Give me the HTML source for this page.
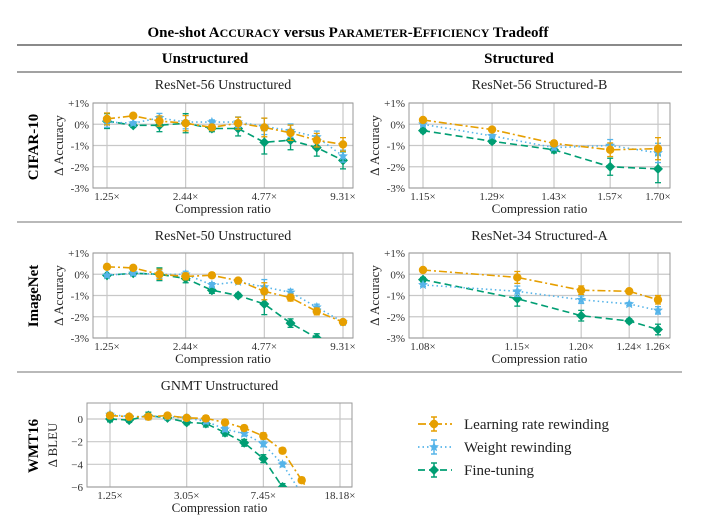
<!DOCTYPE html>
<html><head><meta charset="utf-8"><style>
html,body{margin:0;padding:0;background:#fff;width:719px;height:529px;overflow:hidden}
svg{display:block;font-family:"Liberation Serif",serif}
</style></head><body>
<svg id="fig" width="719" height="529" viewBox="0 0 719 529">
<text x="348" y="37" text-anchor="middle" font-weight="bold" font-size="15">One-shot A<tspan font-size="12">CCURACY</tspan> versus P<tspan font-size="12">ARAMETER</tspan>-E<tspan font-size="12">FFICIENCY</tspan> Tradeoff</text>
<line x1="17" x2="682" y1="45" y2="45" stroke="#444" stroke-width="1.3"/>
<text x="205" y="63" text-anchor="middle" font-weight="bold" font-size="15">Unstructured</text>
<text x="519" y="63" text-anchor="middle" font-weight="bold" font-size="15">Structured</text>
<line x1="17" x2="682" y1="72" y2="72" stroke="#444" stroke-width="1"/>
<line x1="17" x2="682" y1="222" y2="222" stroke="#444" stroke-width="0.8"/>
<line x1="17" x2="682" y1="372" y2="372" stroke="#444" stroke-width="0.8"/>
<text transform="translate(38,147) rotate(-90)" text-anchor="middle" font-weight="bold" font-size="15">CIFAR-10</text>
<text transform="translate(38,296) rotate(-90)" text-anchor="middle" font-weight="bold" font-size="15">ImageNet</text>
<text transform="translate(38,446) rotate(-90)" text-anchor="middle" font-weight="bold" font-size="15">WMT16</text>
<g id="legend"></g>
</svg>
<script>
// ---- data ----
const ratiosUnstr = [1.25,1.5625,1.953,2.441,3.052,3.815,4.768,5.96,7.45,9.313];
const ticksUnstr = ["1.25×","2.44×","4.77×","9.31×"];
const tickValsUnstr = [1.25,2.441,4.768,9.313];
const r56uLR = [0.25,0.4,0.15,0.05,-0.15,0.05,-0.15,-0.4,-0.75,-0.95];
const r56uWR = [0.1,0.05,0.3,0.1,0.1,0.1,-0.1,-0.3,-0.6,-1.5];
const r56uFT = [0.15,-0.05,-0.05,0.05,-0.2,-0.2,-0.85,-0.75,-1.1,-1.7];
const r56uErr = [0.35,0.1,0.3,0.45,0.15,0.35,0.55,0.45,0.4,0.4];

const ratiosR56s = [1.15,1.29,1.43,1.57,1.70];
const ticksR56s = ["1.15×","1.29×","1.43×","1.57×","1.70×"];
const r56sLR = [0.2,-0.25,-0.9,-1.2,-1.15];
const r56sWR = [0,-0.55,-1.1,-1.0,-1.35];
const r56sFT = [-0.3,-0.8,-1.2,-2.0,-2.1];
const r56sErr = [0.1,0.1,0.15,0.4,0.65];

const r50uLR = [0.35,0.3,0,-0.1,-0.05,-0.3,-0.8,-1.1,-1.75,-2.25];
const r50uWR = [-0.05,0.05,0,0,-0.5,-0.35,-0.6,-0.85,-1.55,-2.25];
const r50uFT = [-0.05,0.05,0,-0.2,-0.75,-1.0,-1.4,-2.3,-3.0,-3.7];
const r50uErr = [0.05,0.1,0.3,0.2,0.15,0.1,0.5,0.2,0.2,0.1];

const ratiosR34s = [1.077,1.147,1.197,1.236,1.26];
const ticksR34s = ["1.08×","1.15×","1.20×","1.24×","1.26×"];
const r34sLR = [0.2,-0.15,-0.75,-0.8,-1.2];
const r34sWR = [-0.5,-0.8,-1.2,-1.4,-1.7];
const r34sFT = [-0.25,-1.15,-1.95,-2.2,-2.6];
const r34sErr = [0.1,0.35,0.25,0.1,0.25];

const ratiosGnmt = [1.25,1.5625,1.953,2.441,3.052,3.815,4.768,5.96,7.45,9.313,11.64,14.55];
const ticksGnmt = ["1.25×","3.05×","7.45×","18.18×"];
const tickValsGnmt = [1.25,3.052,7.45,18.18];
const gnmtLR = [0.3,0.2,0.2,0.3,0.1,0.05,-0.3,-0.8,-1.5,-2.8,-5.4,-8];
const gnmtWR = [0.4,0.2,0.2,0.2,0.1,-0.2,-0.9,-1.3,-2.2,-4.0,-6.6,-9];
const gnmtFT = [0,-0.1,0.3,0.1,-0.3,-0.4,-1.2,-2.1,-3.5,-6,-9,-12];
const gnmtErr = [0.25,0.2,0.3,0.2,0.2,0.3,0.3,0.3,0.35,0.3,0.3,0.3];

const C = {lr:"#E69F00", wr:"#56B4E9", ft:"#009E73"};
const NS = "http://www.w3.org/2000/svg";
const svg = document.getElementById("fig");
function mk(tag, attrs, parent){const e=document.createElementNS(NS,tag);for(const k in attrs)e.setAttribute(k,attrs[k]);(parent||svg).appendChild(e);return e;}

function marker(g,type,x,y,col){
  let e;
  if(type==="circle") e=mk("circle",{cx:x,cy:y,r:4.2,fill:col},g);
  else if(type==="diamond") e=mk("polygon",{points:`${x},${y-5} ${x+5},${y} ${x},${y+5} ${x-5},${y}`,fill:col},g);
  else { let p=[];for(let i=0;i<10;i++){const a=-Math.PI/2+i*Math.PI/5,r=i%2?2.4:5.2;p.push((x+r*Math.cos(a)).toFixed(1)+","+(y+r*Math.sin(a)).toFixed(1));}
    e=mk("polygon",{points:p.join(" "),fill:col},g);}
  return e;
}

let clipId=0;
function panel(o){
  const g=mk("g",{});
  
  
  const lx0=Math.log(o.xd[0]), lx1=Math.log(o.xd[1]);
  const X=v=>o.x0+(Math.log(v)-lx0)/(lx1-lx0)*(o.x1-o.x0);
  const Y=v=>o.y0+(o.yd[1]-v)/(o.yd[1]-o.yd[0])*(o.y1-o.y0);
  const t=mk("text",{x:(o.L+o.R)/2,y:o.titleY,"text-anchor":"middle","font-size":14,fill:"#222"},g);
  t.textContent=o.title;
  
  
  o.yt.forEach((v,i)=>{
    const yy=Y(v);
    mk("line",{x1:o.L,x2:o.R,y1:yy,y2:yy,stroke:"#c8c8c8","stroke-width":1.2},g);
    const tx=mk("text",{x:o.L-4,y:yy+4,"text-anchor":"end","font-size":11,fill:"#333"},g);
    tx.textContent=o.ytl[i];
    
    
  });
  o.xt.forEach((v,i)=>{
    const xx=X(v);
    mk("line",{x1:xx,x2:xx,y1:o.T,y2:o.B,stroke:"#c8c8c8","stroke-width":1.2},g);
    const tx=mk("text",{x:xx,y:o.B+12,"text-anchor":"middle","font-size":11,fill:"#333"},g);
    tx.textContent=o.xtl[i];
    
    
  });
  mk("rect",{x:o.L,y:o.T,width:o.R-o.L,height:o.B-o.T,fill:"none",stroke:"#999","stroke-width":1},g);
  const xl=mk("text",{x:(o.L+o.R)/2,y:o.B+25,"text-anchor":"middle","font-size":13,fill:"#222"},g);
  xl.textContent="Compression ratio";
  
  
  const yl=mk("text",{transform:`translate(${o.L-30},${(o.T+o.B)/2}) rotate(-90)`,"text-anchor":"middle","font-size":13,fill:"#222"},g);
  yl.textContent=o.ylab;
  
  
  const id="c"+(clipId++);
  const cp=mk("clipPath",{id:id},g);
  mk("rect",{x:o.L,y:o.T,width:o.R-o.L,height:o.B-o.T},cp);
  const pg=mk("g",{"clip-path":`url(#${id})`},g);
  const series=[
    {d:o.ft,c:C.ft,m:"diamond",dash:"7,4",n:"fine-tuning"},
    {d:o.wr,c:C.wr,m:"star",dash:"1.5,3",n:"weight-rewinding"},
    {d:o.lr,c:C.lr,m:"circle",dash:"8,3,2,3",n:"learning-rate-rewinding"}
  ];
  const clampY=y=>Math.max(o.T,Math.min(o.B,y));
  series.forEach(s=>{
    const sg=mk("g",{},pg);
    
    
    // build line clipped at bottom edge
    let dstr="", penDown=false;
    for(let i=0;i<s.d.length-1;i++){
      let x1=X(o.xs[i]), y1=Y(s.d[i]), x2=X(o.xs[i+1]), y2=Y(s.d[i+1]);
      if(y1>o.B && y2>o.B){penDown=false;continue;}
      if(y1>o.B){x1=x1+(x2-x1)*(o.B-y1)/(y2-y1);y1=o.B;penDown=false;}
      if(y2>o.B){x2=x1+(x2-x1)*(o.B-y1)/(y2-y1);y2=o.B;}
      if(!penDown){dstr+=`M${x1.toFixed(1)},${y1.toFixed(1)}`;penDown=true;}
      dstr+=`L${x2.toFixed(1)},${y2.toFixed(1)}`;
      if(y2>=o.B) penDown=false;
    }
    mk("path",{d:dstr,fill:"none",stroke:s.c,"stroke-width":1.6,"stroke-dasharray":s.dash},sg);
    s.d.forEach((v,i)=>{
      const xx=X(o.xs[i]), yy=Y(v);
      if(yy>o.B+5) return;
      const e=o.err[i]*(s.m==="circle"?0.8:1)*(s.m==="star"?0.7:1);
      const y1=clampY(Y(v+e)), y2=clampY(Y(v-e));
      mk("line",{x1:xx,x2:xx,y1:y1,y2:y2,stroke:s.c,"stroke-width":1.3},sg);
      mk("line",{x1:xx-3,x2:xx+3,y1:y1,y2:y1,stroke:s.c,"stroke-width":1.3},sg);
      mk("line",{x1:xx-3,x2:xx+3,y1:y2,y2:y2,stroke:s.c,"stroke-width":1.3},sg);
      const mm=marker(sg,s.m,xx,Math.min(yy,o.B+1),s.c);
      
      
    });
  });
}
const pctT=[1,0,-1,-2,-3], pctL=["+1%","0%","-1%","-2%","-3%"];
panel({name:"resnet56-unstructured-chart",title:"ResNet-56 Unstructured",titleY:89,L:93,R:353,T:103,B:188,
  x0:107,x1:343,xd:[1.25,9.313],y0:103,y1:188,yd:[-3,1],yt:pctT,ytl:pctL,xt:tickValsUnstr,xtl:ticksUnstr,
  xs:ratiosUnstr,lr:r56uLR,wr:r56uWR,ft:r56uFT,err:r56uErr,ylab:"Δ Accuracy"});
panel({name:"resnet56-structured-b-chart",title:"ResNet-56 Structured-B",titleY:89,L:409,R:670,T:103,B:188,
  x0:423,x1:658,xd:[1.15,1.70],y0:103,y1:188,yd:[-3,1],yt:pctT,ytl:pctL,xt:ratiosR56s,xtl:ticksR56s,
  xs:ratiosR56s,lr:r56sLR,wr:r56sWR,ft:r56sFT,err:r56sErr,ylab:"Δ Accuracy"});
panel({name:"resnet50-unstructured-chart",title:"ResNet-50 Unstructured",titleY:240,L:93,R:353,T:253,B:338,
  x0:107,x1:343,xd:[1.25,9.313],y0:253,y1:338,yd:[-3,1],yt:pctT,ytl:pctL,xt:tickValsUnstr,xtl:ticksUnstr,
  xs:ratiosUnstr,lr:r50uLR,wr:r50uWR,ft:r50uFT,err:r50uErr,ylab:"Δ Accuracy"});
panel({name:"resnet34-structured-a-chart",title:"ResNet-34 Structured-A",titleY:240,L:409,R:670,T:253,B:338,
  x0:423,x1:658,xd:[1.077,1.26],y0:253,y1:338,yd:[-3,1],yt:pctT,ytl:pctL,xt:ratiosR34s,xtl:ticksR34s,
  xs:ratiosR34s,lr:r34sLR,wr:r34sWR,ft:r34sFT,err:r34sErr,ylab:"Δ Accuracy"});
panel({name:"gnmt-unstructured-chart",title:"GNMT Unstructured",titleY:390,L:87,R:352,T:403,B:487,
  x0:110,x1:340,xd:[1.25,18.18],y0:419,y1:487,yd:[-6,0],yt:[0,-2,-4,-6],ytl:["0","−2","−4","−6"],xt:tickValsGnmt,xtl:ticksGnmt,
  xs:ratiosGnmt,lr:gnmtLR,wr:gnmtWR,ft:gnmtFT,err:gnmtErr,ylab:"Δ BLEU"});

const lg=document.getElementById("legend");
[["Learning rate rewinding",C.lr,"circle","8,3,2,3",424,"legend-entry-lr"],["Weight rewinding",C.wr,"star","1.5,3",447,"legend-entry-wr"],["Fine-tuning",C.ft,"diamond","7,4",470,"legend-entry-ft"]].forEach(r=>{
  const g=mk("g",{},lg);
  
  
  mk("line",{x1:418,x2:452,y1:r[4],y2:r[4],stroke:r[1],"stroke-width":1.8,"stroke-dasharray":r[3]},g);
  mk("line",{x1:434,x2:434,y1:r[4]-7,y2:r[4]+7,stroke:r[1],"stroke-width":1.5},g);
  mk("line",{x1:431,x2:437,y1:r[4]-7,y2:r[4]-7,stroke:r[1],"stroke-width":1.5},g);
  mk("line",{x1:431,x2:437,y1:r[4]+7,y2:r[4]+7,stroke:r[1],"stroke-width":1.5},g);
  marker(g,r[2],434,r[4],r[1]);
  const t=mk("text",{x:464,y:r[4]+5,"font-size":15,fill:"#222"},g);
  t.textContent=r[0];
});
</script>
</body></html>
